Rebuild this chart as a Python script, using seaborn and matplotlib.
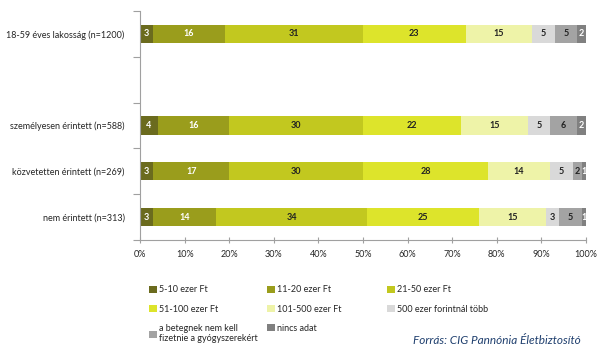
import numpy as np
import pandas as pd
import matplotlib
matplotlib.use("Agg")
import matplotlib.pyplot as plt
import seaborn as sns
from matplotlib.patches import Patch

sns.set_theme(style="white")
plt.rcParams['font.family'] = ['Lato', 'DejaVu Sans']

categories = ["18-59 éves lakosság (n=1200)", "", "személyesen érintett (n=588)",
              "közvetetten érintett (n=269)", "nem érintett (n=313)"]
series_names = ["5-10 ezer Ft", "11-20 ezer Ft", "21-50 ezer Ft", "51-100 ezer Ft",
                "101-500 ezer Ft", "500 ezer forintnál több",
                "a betegnek nem kell\nfizetnie a gyógyszerekért", "nincs adat"]
v_5_10 = [3, 0, 4, 3, 3]
v_11_20 = [16, 0, 16, 17, 14]
v_21_50 = [31, 0, 30, 30, 34]
v_51_100 = [23, 0, 22, 28, 25]
v_101_500 = [15, 0, 15, 14, 15]
v_500plus = [5, 0, 5, 5, 3]
v_nem_kell = [5, 0, 6, 2, 5]
v_nincs = [2, 0, 2, 1, 1]
xticklabels = ["0%", "10%", "20%", "30%", "40%", "50%", "60%", "70%", "80%", "90%", "100%"]

colors = ["#6b6b1e", "#9a9d1c", "#c2c81f", "#dde42b", "#eef3a8", "#d9d9d9", "#a3a3a3", "#808080"]
text_colors = ["white", "white", "#222222", "#222222", "#222222", "#222222", "#222222", "white"]

series = [v_5_10, v_11_20, v_21_50, v_51_100, v_101_500, v_500plus, v_nem_kell, v_nincs]
vals = np.array(series, dtype=float)
cum = np.cumsum(vals, axis=0)

fig = plt.figure(figsize=(6.11, 3.52), dpi=100)
ax = fig.add_axes([140/611, 1-240/352, 446/611, 229/352])

for i in reversed(range(len(series))):
    df = pd.DataFrame({"cat": categories, "val": cum[i]})
    sns.barplot(data=df, x="val", y="cat", order=categories, color=colors[i],
                width=0.4, orient="h", saturation=1, linewidth=0, ax=ax)

for i in range(len(series)):
    for j in range(len(categories)):
        v = vals[i, j]
        if v <= 0:
            continue
        center = cum[i, j] - v / 2
        ax.text(center, j, f"{int(v)}", ha="center", va="center",
                fontsize=6.5, color=text_colors[i], fontweight="bold")

ax.set_xlim(0, 100)
ax.set_ylim(4.5, -0.5)
ax.set_xticks(np.arange(0, 101, 10))
ax.set_xticklabels(xticklabels, fontsize=6.5)
ax.set_xlabel("")
ax.set_ylabel("")
ax.set_yticks(range(len(categories)))
ax.set_yticklabels(categories, fontsize=6.5)
ax.set_yticks(np.arange(-0.5, 4.6, 1), minor=True)
ax.tick_params(axis="y", which="major", length=0, pad=11)
ax.tick_params(axis="y", which="minor", length=5, color="#a0a0a0", width=0.8, left=True)
ax.tick_params(axis="x", which="major", length=4, direction="inout", color="#a0a0a0",
               width=0.8, bottom=True, pad=5)
for s in ["top", "right"]:
    ax.spines[s].set_visible(False)
for s in ["left", "bottom"]:
    ax.spines[s].set_color("#a0a0a0")
    ax.spines[s].set_linewidth(0.8)
ax.grid(False)

handles = [Patch(facecolor=c, edgecolor="none") for c in colors]
columns = [[0, 3, 6], [1, 4, 7], [2, 5]]
col_x = [143, 261, 381]
for cx, idxs in zip(col_x, columns):
    leg = fig.legend([handles[k] for k in idxs], [series_names[k] for k in idxs],
                     ncol=1, loc="upper left", bbox_to_anchor=(cx/611, 1-279/352),
                     frameon=False, fontsize=6.5, handlelength=0.8, handleheight=0.8,
                     handletextpad=0.3, labelspacing=1.15, borderpad=0.2)

fig.text(581/611, 1-341/352, "Forrás: CIG Pannónia Életbiztosító", ha="right", va="center",
         fontsize=8.5, style="italic", color="#1f3f6e")

fig.savefig("out.png", dpi=100)
